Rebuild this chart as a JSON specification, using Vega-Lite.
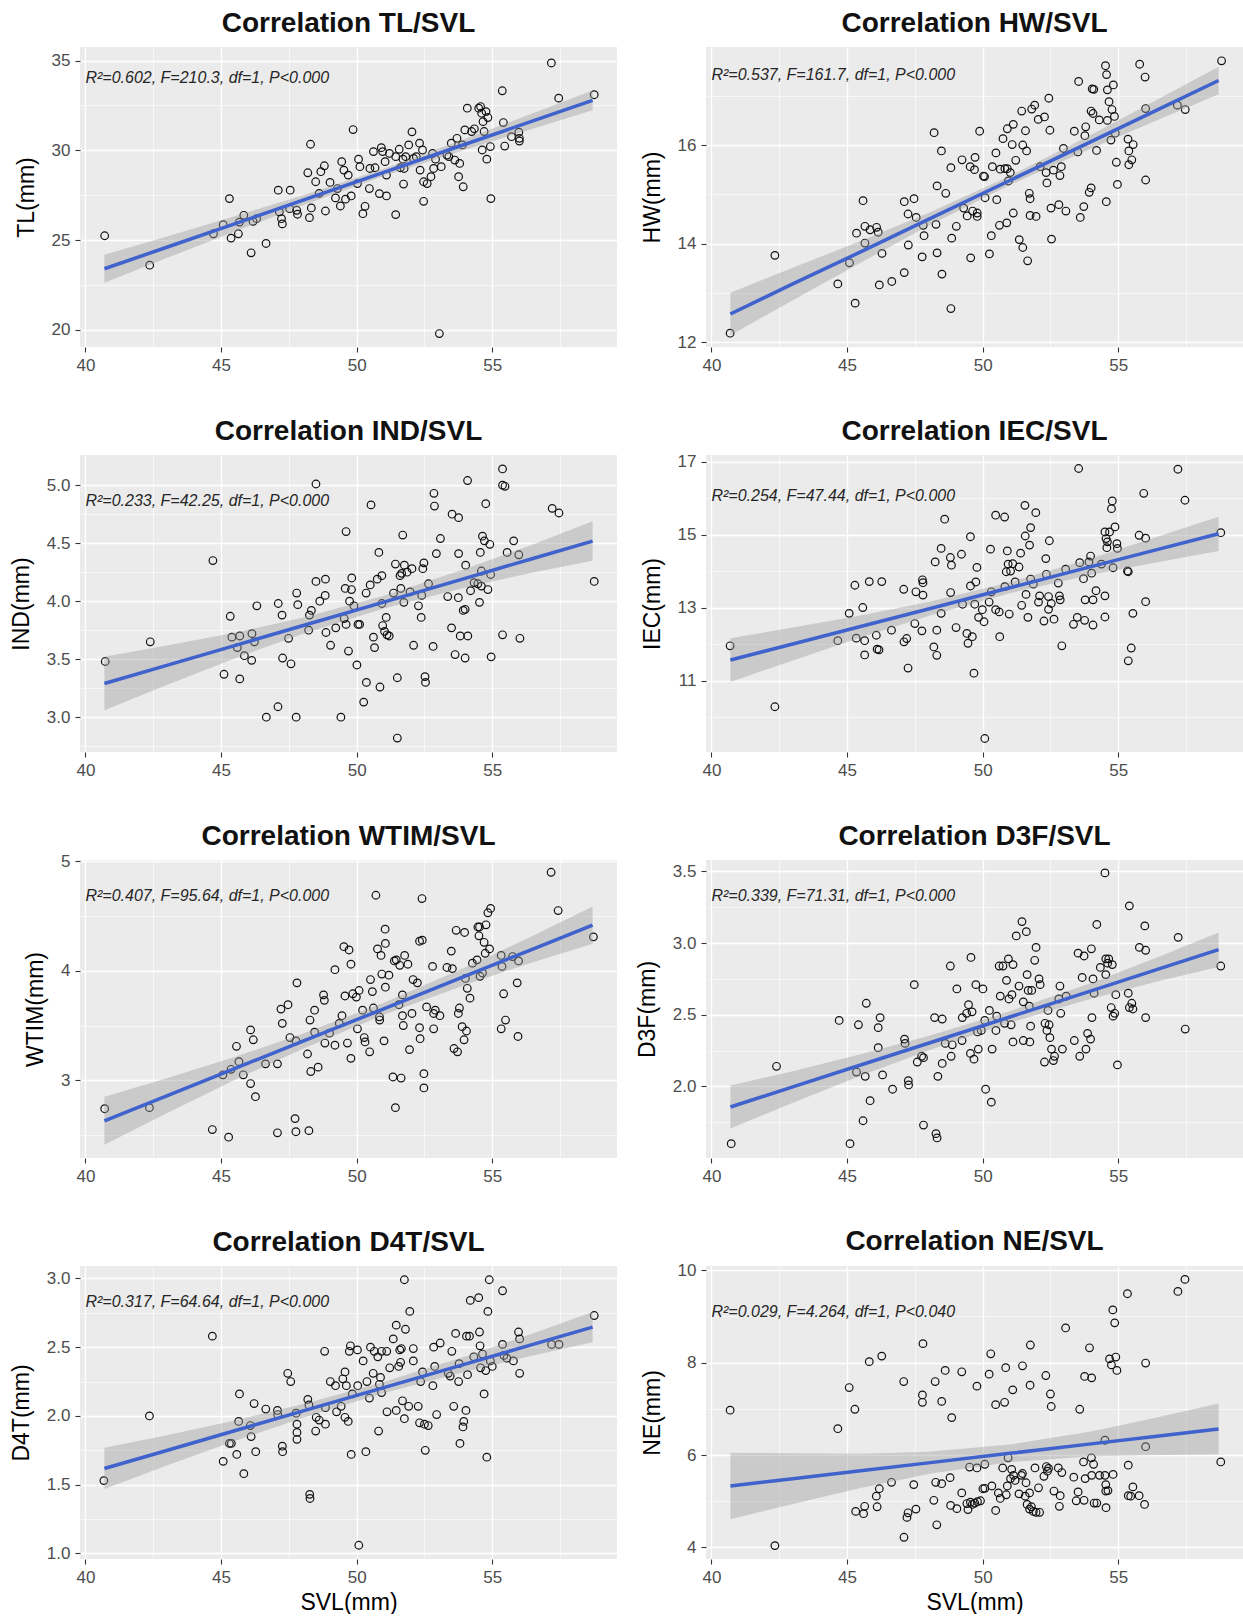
{
  "$schema": "https://vega.github.io/schema/vega-lite/v6.json",
  "padding": {"left": 10, "top": 10, "right": 0, "bottom": 0},
  "columns": 2,
  "spacing": {"row": 44, "column": 19},
  "datasets": {
    "tl": [
      {"s":40.71,"v":25.24},{"s":42.37,"v":23.6},{"s":44.72,"v":25.35},{"s":45.08,"v":25.86},{"s":45.31,"v":27.31},{"s":45.37,"v":25.11},{"s":45.64,"v":25.35},{"s":45.68,"v":26.0},{"s":45.84,"v":26.38},{"s":46.11,"v":24.29},{"s":46.18,"v":26.04},{"s":46.31,"v":26.19},{"s":46.66,"v":24.81},{"s":47.11,"v":27.78},{"s":47.15,"v":26.57},{"s":47.23,"v":26.19},{"s":47.26,"v":25.9},{"s":47.55,"v":27.78},{"s":47.53,"v":26.75},{"s":47.79,"v":26.66},{"s":47.82,"v":26.44},{"s":48.2,"v":28.75},{"s":48.3,"v":30.34},{"s":48.26,"v":26.25},{"s":48.33,"v":26.79},{"s":48.49,"v":28.25},{"s":48.62,"v":27.6},{"s":48.81,"v":29.14},{"s":48.85,"v":26.62},{"s":49.02,"v":28.21},{"s":49.22,"v":27.35},{"s":49.4,"v":26.9},{"s":49.45,"v":29.37},{"s":49.53,"v":28.9},{"s":49.59,"v":27.28},{"s":49.69,"v":28.62},{"s":49.8,"v":27.46},{"s":49.87,"v":31.16},{"s":50.03,"v":28.15},{"s":50.07,"v":29.51},{"s":50.12,"v":29.09},{"s":50.23,"v":26.47},{"s":50.31,"v":26.88},{"s":50.47,"v":27.87},{"s":50.49,"v":28.99},{"s":50.62,"v":29.93},{"s":50.68,"v":29.03},{"s":50.84,"v":27.59},{"s":50.91,"v":30.15},{"s":50.96,"v":29.93},{"s":51.05,"v":29.37},{"s":51.1,"v":28.62},{"s":51.1,"v":27.46},{"s":51.21,"v":29.83},{"s":51.44,"v":26.42},{"s":51.44,"v":29.65},{"s":51.57,"v":30.06},{"s":51.61,"v":29.03},{"s":51.71,"v":29.51},{"s":51.73,"v":28.12},{"s":51.81,"v":29.65},{"s":51.92,"v":30.3},{"s":52.04,"v":31.03},{"s":52.1,"v":29.55},{"s":52.32,"v":30.4},{"s":52.34,"v":28.9},{"s":52.43,"v":30.02},{"s":52.47,"v":27.16},{"s":52.47,"v":28.25},{"s":52.6,"v":28.15},{"s":52.74,"v":28.53},{"s":52.8,"v":29.83},{"s":52.84,"v":28.99},{"s":52.91,"v":29.51},{"s":53.05,"v":19.79},{"s":53.4,"v":29.65},{"s":53.49,"v":30.4},{"s":53.62,"v":29.46},{"s":53.7,"v":30.67},{"s":53.76,"v":28.53},{"s":53.8,"v":29.27},{"s":53.9,"v":30.3},{"s":53.93,"v":27.97},{"s":53.99,"v":31.14},{"s":54.08,"v":32.35},{"s":54.24,"v":31.05},{"s":54.34,"v":31.2},{"s":54.5,"v":32.35},{"s":54.57,"v":32.44},{"s":54.61,"v":32.07},{"s":54.63,"v":30.02},{"s":54.66,"v":31.6},{"s":54.7,"v":31.05},{"s":54.77,"v":32.16},{"s":54.8,"v":29.51},{"s":54.84,"v":31.83},{"s":54.93,"v":30.21},{"s":54.95,"v":27.31},{"s":55.37,"v":33.32},{"s":55.41,"v":31.55},{"s":55.46,"v":30.24},{"s":55.71,"v":30.76},{"s":55.98,"v":31.01},{"s":56.0,"v":30.67},{"s":56.0,"v":30.52},{"s":57.18,"v":34.87},{"s":57.45,"v":32.91},{"s":58.76,"v":33.1},{"s":49.29,"v":27.87},{"s":48.68,"v":28.81},{"s":51.75,"v":28.99},{"s":53.33,"v":29.74},{"s":53.12,"v":29.09},{"s":52.2,"v":29.65}
    ],
    "tl_fit": [
      {"s":40.7,"v":23.4,"lo":22.62,"hi":24.18},{"s":43,"v":24.6,"lo":24.0,"hi":25.2},{"s":45.5,"v":25.9,"lo":25.47,"hi":26.33},{"s":48,"v":27.21,"lo":26.93,"hi":27.49},{"s":51,"v":28.77,"lo":28.57,"hi":28.97},{"s":54,"v":30.34,"lo":30.04,"hi":30.64},{"s":56.5,"v":31.64,"lo":31.21,"hi":32.07},{"s":58.7,"v":32.79,"lo":32.24,"hi":33.34}
    ],
    "hw": [
      {"s":40.69,"v":12.18},{"s":42.34,"v":13.76},{"s":44.66,"v":13.18},{"s":45.09,"v":13.61},{"s":45.3,"v":12.79},{"s":45.59,"v":14.87},{"s":45.66,"v":14.01},{"s":45.35,"v":14.21},{"s":45.66,"v":14.35},{"s":45.85,"v":14.28},{"s":46.09,"v":14.33},{"s":46.15,"v":14.23},{"s":46.29,"v":13.8},{"s":46.19,"v":13.16},{"s":46.65,"v":13.23},{"s":47.11,"v":13.41},{"s":47.11,"v":14.85},{"s":47.25,"v":14.6},{"s":47.26,"v":13.97},{"s":47.47,"v":14.91},{"s":47.55,"v":14.53},{"s":47.77,"v":13.73},{"s":47.81,"v":14.37},{"s":47.84,"v":14.16},{"s":48.21,"v":16.25},{"s":48.28,"v":14.39},{"s":48.32,"v":13.81},{"s":48.32,"v":15.17},{"s":48.48,"v":15.88},{"s":48.5,"v":13.38},{"s":48.64,"v":15.02},{"s":48.83,"v":15.54},{"s":48.86,"v":14.11},{"s":48.83,"v":12.68},{"s":49.03,"v":14.35},{"s":49.24,"v":15.7},{"s":49.3,"v":14.72},{"s":49.43,"v":14.56},{"s":49.54,"v":15.56},{"s":49.56,"v":13.71},{"s":49.63,"v":14.66},{"s":49.72,"v":15.75},{"s":49.7,"v":15.5},{"s":49.8,"v":14.62},{"s":49.8,"v":14.55},{"s":49.89,"v":16.28},{"s":50.03,"v":15.37},{"s":50.07,"v":15.36},{"s":50.09,"v":14.93},{"s":50.25,"v":13.79},{"s":50.32,"v":14.16},{"s":50.36,"v":15.56},{"s":50.49,"v":15.84},{"s":50.52,"v":14.89},{"s":50.62,"v":14.37},{"s":50.65,"v":15.51},{"s":50.75,"v":16.13},{"s":50.82,"v":15.52},{"s":50.89,"v":14.42},{"s":50.91,"v":16.33},{"s":50.91,"v":15.52},{"s":50.95,"v":15.27},{"s":51.02,"v":15.44},{"s":51.09,"v":16.01},{"s":51.13,"v":16.42},{"s":51.13,"v":14.62},{"s":51.22,"v":15.69},{"s":51.35,"v":14.08},{"s":51.44,"v":16.69},{"s":51.48,"v":16.0},{"s":51.48,"v":13.92},{"s":51.58,"v":16.29},{"s":51.62,"v":15.88},{"s":51.66,"v":13.65},{"s":51.72,"v":15.02},{"s":51.75,"v":14.91},{"s":51.75,"v":14.57},{"s":51.81,"v":16.73},{"s":51.92,"v":16.81},{"s":51.97,"v":14.55},{"s":52.05,"v":16.52},{"s":52.12,"v":15.56},{"s":52.28,"v":16.57},{"s":52.34,"v":15.44},{"s":52.37,"v":15.23},{"s":52.44,"v":16.95},{"s":52.48,"v":16.3},{"s":52.52,"v":14.72},{"s":52.54,"v":14.09},{"s":52.61,"v":15.49},{"s":52.81,"v":14.79},{"s":52.85,"v":15.38},{"s":52.9,"v":15.56},{"s":52.98,"v":15.93},{"s":53.07,"v":14.66},{"s":53.38,"v":16.28},{"s":53.54,"v":17.29},{"s":53.51,"v":15.86},{"s":53.6,"v":14.53},{"s":53.73,"v":14.75},{"s":53.77,"v":16.19},{"s":53.8,"v":16.37},{"s":53.93,"v":15.04},{"s":54.0,"v":15.13},{"s":54.0,"v":16.69},{"s":54.04,"v":17.14},{"s":54.07,"v":16.64},{"s":54.1,"v":17.13},{"s":54.2,"v":15.89},{"s":54.3,"v":16.51},{"s":54.53,"v":17.61},{"s":54.56,"v":14.85},{"s":54.57,"v":17.43},{"s":54.6,"v":17.12},{"s":54.6,"v":16.5},{"s":54.66,"v":16.88},{"s":54.73,"v":16.1},{"s":54.77,"v":16.72},{"s":54.82,"v":17.22},{"s":54.86,"v":16.58},{"s":54.89,"v":16.24},{"s":54.93,"v":15.65},{"s":54.97,"v":15.2},{"s":55.36,"v":16.12},{"s":55.39,"v":15.88},{"s":55.39,"v":15.6},{"s":55.5,"v":15.7},{"s":55.55,"v":16.01},{"s":55.79,"v":17.64},{"s":55.99,"v":17.38},{"s":56.01,"v":15.29},{"s":56.01,"v":16.74},{"s":57.18,"v":16.81},{"s":57.47,"v":16.72},{"s":58.81,"v":17.71}
    ],
    "hw_fit": [
      {"s":40.7,"v":12.57,"lo":12.14,"hi":13.0},{"s":43,"v":13.18,"lo":12.85,"hi":13.51},{"s":45.5,"v":13.83,"lo":13.61,"hi":14.05},{"s":48,"v":14.49,"lo":14.36,"hi":14.62},{"s":51,"v":15.28,"lo":15.19,"hi":15.37},{"s":54,"v":16.07,"lo":15.93,"hi":16.21},{"s":56.5,"v":16.73,"lo":16.52,"hi":16.94},{"s":58.7,"v":17.31,"lo":17.03,"hi":17.59}
    ],
    "ind": [
      {"s":40.73,"v":3.48},{"s":42.39,"v":3.65},{"s":44.7,"v":4.35},{"s":45.11,"v":3.37},{"s":45.34,"v":3.87},{"s":45.4,"v":3.69},{"s":45.69,"v":3.7},{"s":45.6,"v":3.6},{"s":45.69,"v":3.33},{"s":45.86,"v":3.53},{"s":46.14,"v":3.72},{"s":46.13,"v":3.49},{"s":46.23,"v":3.65},{"s":46.32,"v":3.96},{"s":46.67,"v":3.0},{"s":47.1,"v":3.09},{"s":47.11,"v":3.98},{"s":47.25,"v":3.88},{"s":47.27,"v":3.51},{"s":47.49,"v":3.68},{"s":47.58,"v":3.46},{"s":47.77,"v":3.0},{"s":47.79,"v":4.07},{"s":47.83,"v":3.97},{"s":48.23,"v":3.75},{"s":48.26,"v":3.88},{"s":48.33,"v":3.92},{"s":48.5,"v":5.01},{"s":48.5,"v":4.17},{"s":48.64,"v":4.0},{"s":48.84,"v":4.05},{"s":48.85,"v":4.19},{"s":48.87,"v":3.73},{"s":49.04,"v":3.62},{"s":49.23,"v":3.77},{"s":49.42,"v":3.0},{"s":49.54,"v":3.85},{"s":49.58,"v":4.11},{"s":49.61,"v":4.6},{"s":49.61,"v":3.8},{"s":49.7,"v":3.57},{"s":49.74,"v":4.0},{"s":49.81,"v":4.1},{"s":49.82,"v":4.2},{"s":49.9,"v":3.96},{"s":50.01,"v":3.45},{"s":50.05,"v":3.8},{"s":50.11,"v":3.8},{"s":50.26,"v":3.13},{"s":50.35,"v":4.07},{"s":50.36,"v":3.3},{"s":50.5,"v":4.14},{"s":50.53,"v":4.83},{"s":50.62,"v":3.69},{"s":50.66,"v":3.6},{"s":50.76,"v":4.19},{"s":50.82,"v":4.42},{"s":50.86,"v":3.26},{"s":50.93,"v":3.98},{"s":50.93,"v":4.22},{"s":50.96,"v":3.79},{"s":51.03,"v":3.74},{"s":51.09,"v":3.86},{"s":51.12,"v":3.71},{"s":51.2,"v":3.7},{"s":51.36,"v":4.07},{"s":51.43,"v":4.32},{"s":51.5,"v":3.34},{"s":51.5,"v":2.82},{"s":51.6,"v":4.22},{"s":51.63,"v":4.11},{"s":51.66,"v":4.24},{"s":51.7,"v":4.57},{"s":51.74,"v":3.99},{"s":51.76,"v":4.31},{"s":51.86,"v":4.25},{"s":51.97,"v":4.08},{"s":52.04,"v":4.28},{"s":52.1,"v":3.62},{"s":52.28,"v":3.96},{"s":52.38,"v":3.86},{"s":52.4,"v":4.05},{"s":52.44,"v":4.28},{"s":52.48,"v":4.33},{"s":52.52,"v":3.35},{"s":52.54,"v":3.3},{"s":52.65,"v":4.15},{"s":52.82,"v":3.61},{"s":52.85,"v":4.93},{"s":52.87,"v":4.82},{"s":52.94,"v":4.41},{"s":53.09,"v":4.54},{"s":53.36,"v":4.04},{"s":53.5,"v":3.77},{"s":53.52,"v":4.75},{"s":53.63,"v":3.54},{"s":53.75,"v":4.03},{"s":53.76,"v":4.72},{"s":53.76,"v":4.41},{"s":53.82,"v":3.7},{"s":53.93,"v":3.92},{"s":54.0,"v":3.93},{"s":54.0,"v":3.51},{"s":54.02,"v":4.31},{"s":54.09,"v":5.04},{"s":54.1,"v":3.7},{"s":54.2,"v":4.09},{"s":54.33,"v":4.16},{"s":54.47,"v":4.15},{"s":54.53,"v":3.99},{"s":54.56,"v":4.42},{"s":54.6,"v":4.26},{"s":54.6,"v":4.13},{"s":54.64,"v":4.56},{"s":54.71,"v":4.52},{"s":54.76,"v":4.84},{"s":54.84,"v":4.1},{"s":54.91,"v":4.49},{"s":54.94,"v":4.23},{"s":54.96,"v":3.52},{"s":55.38,"v":5.14},{"s":55.38,"v":5.0},{"s":55.47,"v":4.99},{"s":55.38,"v":3.71},{"s":55.55,"v":4.42},{"s":55.79,"v":4.52},{"s":55.98,"v":4.4},{"s":56.02,"v":3.68},{"s":57.21,"v":4.8},{"s":57.46,"v":4.76},{"s":58.76,"v":4.17}
    ],
    "ind_fit": [
      {"s":40.7,"v":3.29,"lo":3.06,"hi":3.52},{"s":43,"v":3.447,"lo":3.277,"hi":3.617},{"s":45.5,"v":3.617,"lo":3.507,"hi":3.727},{"s":48,"v":3.788,"lo":3.718,"hi":3.858},{"s":51,"v":3.992,"lo":3.937,"hi":4.047},{"s":54,"v":4.197,"lo":4.117,"hi":4.277},{"s":56.5,"v":4.368,"lo":4.248,"hi":4.488},{"s":58.7,"v":4.518,"lo":4.348,"hi":4.688}
    ],
    "iec": [
      {"s":40.69,"v":11.96},{"s":42.34,"v":10.29},{"s":44.66,"v":12.1},{"s":45.08,"v":12.85},{"s":45.29,"v":13.62},{"s":45.34,"v":12.17},{"s":45.58,"v":13.01},{"s":45.65,"v":12.1},{"s":45.65,"v":11.71},{"s":45.82,"v":13.72},{"s":46.08,"v":12.25},{"s":46.11,"v":11.87},{"s":46.18,"v":11.85},{"s":46.28,"v":13.72},{"s":46.64,"v":12.39},{"s":47.09,"v":13.51},{"s":47.1,"v":12.07},{"s":47.2,"v":12.16},{"s":47.25,"v":11.35},{"s":47.5,"v":12.57},{"s":47.54,"v":13.44},{"s":47.76,"v":12.37},{"s":47.78,"v":13.77},{"s":47.8,"v":13.69},{"s":47.8,"v":13.35},{"s":48.2,"v":11.93},{"s":48.25,"v":14.26},{"s":48.31,"v":12.39},{"s":48.31,"v":11.7},{"s":48.47,"v":14.63},{"s":48.47,"v":12.85},{"s":48.6,"v":15.43},{"s":48.81,"v":14.38},{"s":48.85,"v":14.17},{"s":48.82,"v":13.42},{"s":49.02,"v":12.46},{"s":49.22,"v":14.47},{"s":49.26,"v":13.1},{"s":49.42,"v":12.3},{"s":49.46,"v":12.03},{"s":49.55,"v":14.95},{"s":49.55,"v":13.6},{"s":49.62,"v":12.21},{"s":49.68,"v":11.21},{"s":49.75,"v":13.71},{"s":49.79,"v":14.11},{"s":49.71,"v":13.1},{"s":49.85,"v":12.74},{"s":49.99,"v":12.95},{"s":50.05,"v":12.62},{"s":50.08,"v":9.42},{"s":50.24,"v":13.16},{"s":50.29,"v":14.61},{"s":50.32,"v":13.44},{"s":50.48,"v":15.54},{"s":50.48,"v":12.95},{"s":50.61,"v":12.89},{"s":50.63,"v":12.21},{"s":50.81,"v":15.49},{"s":50.82,"v":13.58},{"s":50.91,"v":14.56},{"s":50.87,"v":13.99},{"s":50.94,"v":14.2},{"s":50.98,"v":12.83},{"s":51.03,"v":14.01},{"s":51.11,"v":14.21},{"s":51.2,"v":13.71},{"s":51.34,"v":14.12},{"s":51.4,"v":14.5},{"s":51.44,"v":13.07},{"s":51.56,"v":15.81},{"s":51.57,"v":14.97},{"s":51.6,"v":13.37},{"s":51.67,"v":12.74},{"s":51.73,"v":14.72},{"s":51.77,"v":15.2},{"s":51.77,"v":13.79},{"s":51.87,"v":13.65},{"s":51.96,"v":15.61},{"s":52.06,"v":13.16},{"s":52.1,"v":13.33},{"s":52.26,"v":12.64},{"s":52.33,"v":14.35},{"s":52.35,"v":13.92},{"s":52.43,"v":13.31},{"s":52.43,"v":12.96},{"s":52.46,"v":14.84},{"s":52.53,"v":13.12},{"s":52.63,"v":12.69},{"s":52.79,"v":13.68},{"s":52.83,"v":13.33},{"s":52.86,"v":13.22},{"s":52.92,"v":11.96},{"s":53.06,"v":14.06},{"s":53.35,"v":12.55},{"s":53.49,"v":12.74},{"s":53.54,"v":16.82},{"s":53.58,"v":14.24},{"s":53.72,"v":13.8},{"s":53.76,"v":12.66},{"s":53.78,"v":13.22},{"s":53.92,"v":14.26},{"s":53.98,"v":14.42},{"s":54.02,"v":13.95},{"s":54.07,"v":13.22},{"s":54.07,"v":12.53},{"s":54.18,"v":13.47},{"s":54.38,"v":14.2},{"s":54.51,"v":13.33},{"s":54.51,"v":12.75},{"s":54.51,"v":15.08},{"s":54.55,"v":14.9},{"s":54.58,"v":14.65},{"s":54.6,"v":14.81},{"s":54.68,"v":15.08},{"s":54.75,"v":15.72},{"s":54.78,"v":15.93},{"s":54.81,"v":14.1},{"s":54.88,"v":15.22},{"s":54.95,"v":14.76},{"s":54.97,"v":14.63},{"s":55.34,"v":14.01},{"s":55.37,"v":13.99},{"s":55.37,"v":11.55},{"s":55.48,"v":11.9},{"s":55.54,"v":12.85},{"s":55.77,"v":14.99},{"s":55.94,"v":16.14},{"s":56.01,"v":14.91},{"s":56.01,"v":13.17},{"s":57.2,"v":16.8},{"s":57.46,"v":15.95},{"s":58.78,"v":15.06}
    ],
    "iec_fit": [
      {"s":40.7,"v":11.57,"lo":10.97,"hi":12.17},{"s":43,"v":12.01,"lo":11.56,"hi":12.46},{"s":45.5,"v":12.49,"lo":12.19,"hi":12.79},{"s":48,"v":12.97,"lo":12.78,"hi":13.16},{"s":51,"v":13.55,"lo":13.4,"hi":13.7},{"s":54,"v":14.13,"lo":13.91,"hi":14.35},{"s":56.5,"v":14.61,"lo":14.26,"hi":14.96},{"s":58.7,"v":15.03,"lo":14.56,"hi":15.5}
    ],
    "wtim": [
      {"s":40.71,"v":2.74},{"s":42.36,"v":2.75},{"s":44.68,"v":2.55},{"s":45.07,"v":3.05},{"s":45.28,"v":2.48},{"s":45.37,"v":3.1},{"s":45.57,"v":3.31},{"s":45.66,"v":3.17},{"s":45.82,"v":3.05},{"s":46.09,"v":2.97},{"s":46.09,"v":3.46},{"s":46.19,"v":3.37},{"s":46.27,"v":2.85},{"s":46.64,"v":3.15},{"s":47.08,"v":3.15},{"s":47.08,"v":2.52},{"s":47.21,"v":3.65},{"s":47.26,"v":3.52},{"s":47.47,"v":3.69},{"s":47.54,"v":3.39},{"s":47.73,"v":2.65},{"s":47.76,"v":2.53},{"s":47.8,"v":3.89},{"s":47.76,"v":3.36},{"s":48.19,"v":3.24},{"s":48.24,"v":2.54},{"s":48.28,"v":3.55},{"s":48.31,"v":3.08},{"s":48.45,"v":3.64},{"s":48.45,"v":3.44},{"s":48.58,"v":3.12},{"s":48.78,"v":3.78},{"s":48.81,"v":3.73},{"s":48.83,"v":3.34},{"s":49.0,"v":3.43},{"s":49.2,"v":3.32},{"s":49.2,"v":4.01},{"s":49.36,"v":3.52},{"s":49.46,"v":3.59},{"s":49.53,"v":4.22},{"s":49.57,"v":3.77},{"s":49.66,"v":3.34},{"s":49.72,"v":4.19},{"s":49.79,"v":4.06},{"s":49.79,"v":3.2},{"s":49.86,"v":3.79},{"s":49.99,"v":3.76},{"s":50.03,"v":3.47},{"s":50.09,"v":3.82},{"s":50.22,"v":3.64},{"s":50.28,"v":3.39},{"s":50.31,"v":3.35},{"s":50.48,"v":3.26},{"s":50.51,"v":3.92},{"s":50.58,"v":3.81},{"s":50.62,"v":3.66},{"s":50.71,"v":4.69},{"s":50.77,"v":4.2},{"s":50.84,"v":3.58},{"s":50.85,"v":3.55},{"s":50.9,"v":4.14},{"s":50.93,"v":3.97},{"s":51.01,"v":3.36},{"s":51.05,"v":4.38},{"s":51.06,"v":4.25},{"s":51.06,"v":3.85},{"s":51.19,"v":3.96},{"s":51.34,"v":3.03},{"s":51.39,"v":4.09},{"s":51.43,"v":2.75},{"s":51.46,"v":4.1},{"s":51.56,"v":3.69},{"s":51.59,"v":4.05},{"s":51.64,"v":3.02},{"s":51.69,"v":3.78},{"s":51.69,"v":3.59},{"s":51.72,"v":3.5},{"s":51.77,"v":4.14},{"s":51.89,"v":4.06},{"s":51.95,"v":3.28},{"s":52.04,"v":3.61},{"s":52.08,"v":3.92},{"s":52.24,"v":3.89},{"s":52.32,"v":3.48},{"s":52.34,"v":3.38},{"s":52.32,"v":4.27},{"s":52.42,"v":4.28},{"s":52.41,"v":4.66},{"s":52.48,"v":3.06},{"s":52.48,"v":2.93},{"s":52.58,"v":3.67},{"s":52.8,"v":4.04},{"s":52.84,"v":3.47},{"s":52.84,"v":3.61},{"s":52.9,"v":3.64},{"s":53.07,"v":3.59},{"s":53.33,"v":4.03},{"s":53.49,"v":4.18},{"s":53.53,"v":4.02},{"s":53.59,"v":3.29},{"s":53.67,"v":4.37},{"s":53.72,"v":3.26},{"s":53.75,"v":3.61},{"s":53.79,"v":3.66},{"s":53.89,"v":3.49},{"s":53.96,"v":3.37},{"s":53.98,"v":4.35},{"s":54.01,"v":3.93},{"s":54.05,"v":3.45},{"s":54.08,"v":3.84},{"s":54.18,"v":3.75},{"s":54.27,"v":4.07},{"s":54.44,"v":4.1},{"s":54.47,"v":4.4},{"s":54.51,"v":4.32},{"s":54.53,"v":4.4},{"s":54.55,"v":3.95},{"s":54.64,"v":3.98},{"s":54.7,"v":4.26},{"s":54.74,"v":4.16},{"s":54.77,"v":4.42},{"s":54.84,"v":4.53},{"s":54.9,"v":4.2},{"s":54.94,"v":4.57},{"s":55.33,"v":4.14},{"s":55.33,"v":3.47},{"s":55.36,"v":4.04},{"s":55.42,"v":3.79},{"s":55.49,"v":3.55},{"s":55.75,"v":4.13},{"s":55.92,"v":3.89},{"s":55.95,"v":3.4},{"s":55.97,"v":4.09},{"s":57.17,"v":4.9},{"s":57.43,"v":4.55},{"s":58.73,"v":4.31}
    ],
    "wtim_fit": [
      {"s":40.7,"v":2.63,"lo":2.41,"hi":2.85},{"s":43,"v":2.858,"lo":2.698,"hi":3.018},{"s":45.5,"v":3.107,"lo":3.002,"hi":3.212},{"s":48,"v":3.355,"lo":3.285,"hi":3.425},{"s":51,"v":3.653,"lo":3.598,"hi":3.708},{"s":54,"v":3.951,"lo":3.871,"hi":4.031},{"s":56.5,"v":4.199,"lo":4.079,"hi":4.319},{"s":58.7,"v":4.417,"lo":4.247,"hi":4.587}
    ],
    "d3f": [
      {"s":40.73,"v":1.6},{"s":42.4,"v":2.14},{"s":44.71,"v":2.46},{"s":45.11,"v":1.6},{"s":45.35,"v":2.1},{"s":45.42,"v":2.43},{"s":45.59,"v":1.76},{"s":45.67,"v":2.07},{"s":45.71,"v":2.58},{"s":45.85,"v":1.9},{"s":46.15,"v":2.27},{"s":46.15,"v":2.41},{"s":46.22,"v":2.48},{"s":46.31,"v":2.08},{"s":46.68,"v":1.98},{"s":47.12,"v":2.33},{"s":47.14,"v":2.3},{"s":47.26,"v":2.04},{"s":47.27,"v":2.01},{"s":47.48,"v":2.71},{"s":47.59,"v":2.17},{"s":47.75,"v":2.21},{"s":47.82,"v":2.2},{"s":47.82,"v":1.73},{"s":48.23,"v":2.48},{"s":48.28,"v":1.67},{"s":48.32,"v":1.64},{"s":48.35,"v":2.07},{"s":48.51,"v":2.47},{"s":48.51,"v":2.16},{"s":48.62,"v":2.3},{"s":48.81,"v":2.84},{"s":48.84,"v":2.21},{"s":48.88,"v":2.29},{"s":49.05,"v":2.68},{"s":49.24,"v":2.32},{"s":49.25,"v":2.48},{"s":49.41,"v":2.51},{"s":49.48,"v":2.57},{"s":49.55,"v":2.23},{"s":49.57,"v":2.9},{"s":49.61,"v":2.52},{"s":49.68,"v":2.19},{"s":49.75,"v":2.71},{"s":49.81,"v":2.38},{"s":49.84,"v":2.26},{"s":49.95,"v":2.39},{"s":50.01,"v":2.68},{"s":50.08,"v":2.46},{"s":50.11,"v":1.98},{"s":50.25,"v":2.53},{"s":50.32,"v":1.89},{"s":50.35,"v":2.26},{"s":50.49,"v":2.39},{"s":50.52,"v":2.49},{"s":50.61,"v":2.84},{"s":50.65,"v":2.63},{"s":50.75,"v":2.84},{"s":50.81,"v":2.44},{"s":50.88,"v":2.74},{"s":50.95,"v":2.89},{"s":50.97,"v":2.61},{"s":51.05,"v":2.43},{"s":51.08,"v":2.64},{"s":51.12,"v":2.85},{"s":51.12,"v":2.31},{"s":51.24,"v":3.05},{"s":51.34,"v":2.7},{"s":51.45,"v":3.15},{"s":51.5,"v":2.59},{"s":51.5,"v":2.32},{"s":51.61,"v":3.08},{"s":51.64,"v":2.78},{"s":51.68,"v":2.67},{"s":51.72,"v":2.56},{"s":51.74,"v":2.31},{"s":51.77,"v":2.42},{"s":51.81,"v":2.67},{"s":51.92,"v":2.88},{"s":51.97,"v":2.97},{"s":52.08,"v":2.75},{"s":52.12,"v":2.71},{"s":52.28,"v":2.17},{"s":52.3,"v":2.44},{"s":52.37,"v":2.39},{"s":52.41,"v":2.53},{"s":52.45,"v":2.43},{"s":52.48,"v":2.34},{"s":52.54,"v":2.26},{"s":52.61,"v":2.18},{"s":52.65,"v":2.21},{"s":52.85,"v":2.7},{"s":52.88,"v":2.51},{"s":52.94,"v":2.26},{"s":52.81,"v":2.61},{"s":53.08,"v":2.63},{"s":53.38,"v":2.32},{"s":53.52,"v":2.93},{"s":53.58,"v":2.21},{"s":53.67,"v":2.76},{"s":53.74,"v":2.91},{"s":53.81,"v":2.26},{"s":53.87,"v":2.37},{"s":53.98,"v":2.33},{"s":54.01,"v":2.96},{"s":54.03,"v":2.48},{"s":54.07,"v":2.75},{"s":54.11,"v":2.65},{"s":54.21,"v":3.13},{"s":54.34,"v":2.83},{"s":54.51,"v":3.49},{"s":54.54,"v":2.78},{"s":54.54,"v":2.89},{"s":54.61,"v":2.86},{"s":54.65,"v":2.89},{"s":54.74,"v":2.55},{"s":54.78,"v":2.85},{"s":54.81,"v":2.49},{"s":54.87,"v":2.51},{"s":54.91,"v":2.64},{"s":54.97,"v":2.15},{"s":55.37,"v":2.65},{"s":55.41,"v":3.26},{"s":55.41,"v":2.55},{"s":55.5,"v":2.58},{"s":55.54,"v":2.54},{"s":55.78,"v":2.97},{"s":55.98,"v":3.12},{"s":56.01,"v":2.95},{"s":56.01,"v":2.48},{"s":57.21,"v":3.04},{"s":57.47,"v":2.4},{"s":58.78,"v":2.84}
    ],
    "d3f_fit": [
      {"s":40.7,"v":1.856,"lo":1.706,"hi":2.006},{"s":43,"v":1.996,"lo":1.886,"hi":2.106},{"s":45.5,"v":2.149,"lo":2.074,"hi":2.224},{"s":48,"v":2.301,"lo":2.251,"hi":2.351},{"s":51,"v":2.484,"lo":2.444,"hi":2.524},{"s":54,"v":2.667,"lo":2.612,"hi":2.722},{"s":56.5,"v":2.82,"lo":2.735,"hi":2.905},{"s":58.7,"v":2.954,"lo":2.834,"hi":3.074}
    ],
    "d4t": [
      {"s":40.68,"v":1.53},{"s":42.36,"v":2.0},{"s":44.68,"v":2.58},{"s":45.08,"v":1.67},{"s":45.31,"v":1.8},{"s":45.38,"v":1.8},{"s":45.58,"v":1.72},{"s":45.65,"v":1.96},{"s":45.68,"v":2.16},{"s":45.84,"v":1.58},{"s":46.08,"v":1.93},{"s":46.11,"v":1.85},{"s":46.22,"v":2.09},{"s":46.28,"v":1.74},{"s":46.65,"v":2.05},{"s":47.08,"v":2.04},{"s":47.09,"v":2.01},{"s":47.26,"v":1.78},{"s":47.27,"v":1.74},{"s":47.46,"v":2.31},{"s":47.57,"v":2.25},{"s":47.77,"v":2.02},{"s":47.8,"v":1.94},{"s":47.8,"v":1.88},{"s":47.8,"v":1.83},{"s":48.2,"v":2.12},{"s":48.24,"v":2.08},{"s":48.27,"v":1.43},{"s":48.28,"v":1.4},{"s":48.49,"v":1.89},{"s":48.51,"v":1.99},{"s":48.62,"v":1.97},{"s":48.82,"v":2.47},{"s":48.85,"v":2.06},{"s":48.85,"v":1.94},{"s":49.03,"v":2.25},{"s":49.22,"v":2.22},{"s":49.26,"v":2.03},{"s":49.43,"v":2.07},{"s":49.49,"v":2.27},{"s":49.57,"v":2.32},{"s":49.57,"v":1.99},{"s":49.62,"v":2.22},{"s":49.69,"v":1.96},{"s":49.73,"v":2.47},{"s":49.77,"v":2.51},{"s":49.8,"v":1.72},{"s":49.84,"v":2.16},{"s":50.04,"v":2.22},{"s":50.03,"v":2.48},{"s":50.08,"v":1.06},{"s":50.24,"v":2.4},{"s":50.34,"v":1.74},{"s":50.38,"v":2.25},{"s":50.47,"v":2.13},{"s":50.51,"v":2.5},{"s":50.61,"v":2.31},{"s":50.65,"v":2.47},{"s":50.78,"v":2.43},{"s":50.81,"v":1.89},{"s":50.84,"v":2.23},{"s":50.88,"v":2.28},{"s":50.92,"v":2.47},{"s":50.92,"v":2.17},{"s":51.11,"v":2.47},{"s":51.12,"v":2.03},{"s":51.22,"v":2.35},{"s":51.35,"v":2.56},{"s":51.46,"v":2.66},{"s":51.46,"v":2.04},{"s":51.55,"v":2.36},{"s":51.59,"v":2.48},{"s":51.62,"v":2.39},{"s":51.65,"v":2.49},{"s":51.69,"v":2.11},{"s":51.76,"v":2.99},{"s":51.76,"v":1.98},{"s":51.8,"v":2.63},{"s":51.92,"v":2.07},{"s":51.96,"v":2.76},{"s":52.09,"v":2.49},{"s":52.09,"v":2.4},{"s":52.27,"v":2.07},{"s":52.32,"v":1.95},{"s":52.36,"v":2.25},{"s":52.43,"v":2.32},{"s":52.5,"v":1.94},{"s":52.53,"v":1.75},{"s":52.64,"v":1.93},{"s":52.81,"v":2.22},{"s":52.84,"v":2.5},{"s":52.88,"v":2.36},{"s":52.95,"v":2.01},{"s":53.08,"v":2.53},{"s":53.38,"v":2.31},{"s":53.45,"v":2.29},{"s":53.51,"v":2.47},{"s":53.58,"v":2.07},{"s":53.65,"v":2.6},{"s":53.76,"v":2.25},{"s":53.78,"v":2.38},{"s":53.81,"v":1.8},{"s":53.92,"v":1.92},{"s":53.95,"v":1.96},{"s":54.03,"v":2.04},{"s":54.05,"v":2.58},{"s":54.09,"v":2.3},{"s":54.16,"v":2.58},{"s":54.19,"v":2.84},{"s":54.32,"v":2.43},{"s":54.5,"v":2.86},{"s":54.53,"v":2.61},{"s":54.55,"v":2.51},{"s":54.57,"v":2.35},{"s":54.64,"v":2.45},{"s":54.7,"v":2.16},{"s":54.76,"v":2.33},{"s":54.8,"v":1.7},{"s":54.84,"v":2.76},{"s":54.89,"v":2.99},{"s":54.93,"v":2.4},{"s":55.0,"v":2.36},{"s":55.38,"v":2.91},{"s":55.38,"v":2.52},{"s":55.43,"v":2.44},{"s":55.54,"v":2.42},{"s":55.78,"v":2.4},{"s":55.97,"v":2.61},{"s":56.01,"v":2.56},{"s":56.01,"v":2.31},{"s":57.19,"v":2.52},{"s":57.46,"v":2.52},{"s":58.76,"v":2.73}
    ],
    "d4t_fit": [
      {"s":40.7,"v":1.618,"lo":1.468,"hi":1.768},{"s":43,"v":1.749,"lo":1.639,"hi":1.859},{"s":45.5,"v":1.892,"lo":1.817,"hi":1.967},{"s":48,"v":2.035,"lo":1.985,"hi":2.085},{"s":51,"v":2.206,"lo":2.166,"hi":2.246},{"s":54,"v":2.377,"lo":2.322,"hi":2.432},{"s":56.5,"v":2.52,"lo":2.44,"hi":2.6},{"s":58.7,"v":2.646,"lo":2.536,"hi":2.756}
    ],
    "ne": [
      {"s":40.69,"v":6.97},{"s":42.34,"v":4.04},{"s":44.66,"v":6.57},{"s":45.08,"v":7.46},{"s":45.29,"v":6.99},{"s":45.32,"v":4.78},{"s":45.61,"v":4.73},{"s":45.65,"v":4.89},{"s":45.82,"v":8.02},{"s":46.08,"v":5.11},{"s":46.11,"v":4.88},{"s":46.19,"v":5.27},{"s":46.28,"v":8.14},{"s":46.64,"v":5.41},{"s":47.09,"v":7.59},{"s":47.1,"v":4.22},{"s":47.21,"v":4.65},{"s":47.25,"v":4.75},{"s":47.46,"v":5.36},{"s":47.54,"v":4.83},{"s":47.78,"v":7.3},{"s":47.78,"v":7.14},{"s":47.8,"v":8.41},{"s":48.2,"v":5.02},{"s":48.25,"v":7.59},{"s":48.27,"v":5.41},{"s":48.31,"v":4.49},{"s":48.49,"v":5.38},{"s":48.49,"v":7.16},{"s":48.62,"v":7.83},{"s":48.8,"v":5.51},{"s":48.82,"v":4.91},{"s":48.86,"v":6.81},{"s":49.05,"v":4.84},{"s":49.23,"v":7.8},{"s":49.23,"v":5.18},{"s":49.42,"v":4.95},{"s":49.46,"v":4.82},{"s":49.52,"v":5.74},{"s":49.55,"v":4.98},{"s":49.62,"v":4.93},{"s":49.71,"v":4.96},{"s":49.79,"v":7.49},{"s":49.79,"v":5.72},{"s":49.81,"v":4.99},{"s":49.92,"v":5.01},{"s":50.01,"v":5.27},{"s":50.08,"v":5.8},{"s":50.08,"v":5.28},{"s":50.24,"v":7.75},{"s":50.3,"v":8.19},{"s":50.34,"v":5.33},{"s":50.48,"v":7.09},{"s":50.48,"v":4.8},{"s":50.58,"v":5.18},{"s":50.65,"v":5.06},{"s":50.74,"v":5.72},{"s":50.81,"v":7.14},{"s":50.85,"v":7.89},{"s":50.87,"v":5.14},{"s":50.91,"v":5.33},{"s":50.94,"v":5.94},{"s":51.03,"v":5.49},{"s":51.07,"v":5.69},{"s":51.11,"v":7.41},{"s":51.14,"v":5.56},{"s":51.2,"v":5.45},{"s":51.34,"v":5.16},{"s":51.43,"v":5.56},{"s":51.47,"v":5.6},{"s":51.47,"v":7.93},{"s":51.57,"v":5.11},{"s":51.6,"v":5.4},{"s":51.64,"v":4.93},{"s":51.73,"v":5.18},{"s":51.73,"v":4.83},{"s":51.75,"v":7.51},{"s":51.76,"v":8.38},{"s":51.8,"v":4.88},{"s":51.87,"v":4.78},{"s":51.93,"v":5.72},{"s":51.97,"v":4.76},{"s":52.06,"v":5.29},{"s":52.1,"v":4.76},{"s":52.26,"v":5.54},{"s":52.33,"v":7.72},{"s":52.35,"v":5.75},{"s":52.39,"v":5.65},{"s":52.43,"v":5.71},{"s":52.5,"v":7.32},{"s":52.53,"v":7.05},{"s":52.63,"v":5.22},{"s":52.79,"v":5.72},{"s":52.83,"v":4.89},{"s":52.86,"v":5.12},{"s":52.92,"v":5.62},{"s":53.06,"v":8.75},{"s":53.36,"v":5.52},{"s":53.45,"v":5.01},{"s":53.52,"v":5.2},{"s":53.58,"v":6.99},{"s":53.72,"v":5.85},{"s":53.74,"v":5.02},{"s":53.76,"v":7.7},{"s":53.78,"v":5.49},{"s":53.94,"v":8.32},{"s":54.01,"v":5.94},{"s":54.02,"v":7.67},{"s":54.02,"v":5.56},{"s":54.09,"v":5.8},{"s":54.11,"v":4.96},{"s":54.21,"v":4.96},{"s":54.31,"v":5.56},{"s":54.51,"v":6.32},{"s":54.51,"v":5.56},{"s":54.54,"v":5.36},{"s":54.54,"v":5.22},{"s":54.55,"v":4.86},{"s":54.62,"v":5.23},{"s":54.68,"v":8.08},{"s":54.75,"v":7.95},{"s":54.8,"v":9.14},{"s":54.81,"v":5.58},{"s":54.87,"v":8.86},{"s":54.91,"v":8.12},{"s":54.95,"v":7.83},{"s":55.34,"v":9.49},{"s":55.37,"v":5.78},{"s":55.37,"v":5.12},{"s":55.46,"v":5.11},{"s":55.54,"v":5.31},{"s":55.77,"v":5.12},{"s":55.97,"v":4.93},{"s":56.01,"v":7.99},{"s":56.01,"v":6.18},{"s":57.2,"v":9.54},{"s":57.46,"v":9.8},{"s":58.78,"v":5.85}
    ],
    "ne_fit": [
      {"s":40.7,"v":5.33,"lo":4.61,"hi":6.05},{"s":43,"v":5.488,"lo":4.938,"hi":6.038},{"s":45.5,"v":5.659,"lo":5.289,"hi":6.029},{"s":48,"v":5.83,"lo":5.59,"hi":6.07},{"s":51,"v":6.036,"lo":5.846,"hi":6.226},{"s":54,"v":6.241,"lo":5.971,"hi":6.511},{"s":56.5,"v":6.412,"lo":6.002,"hi":6.822},{"s":58.7,"v":6.563,"lo":6.013,"hi":7.113}
    ]
  },
  "concat": [
    {
      "width": 537, "height": 300,
      "title": "Correlation TL/SVL",
      "layer": [
        {"data": {"name": "tl"}, "mark": {"type": "point", "filled": false, "stroke": "#111111", "strokeWidth": 1.2, "size": 58, "opacity": 1},
         "encoding": {
           "x": {"field": "s", "type": "quantitative", "scale": {"domain": [39.8, 59.6], "nice": false, "zero": false},
                 "axis": {"title": null, "values": [40, 42.5, 45, 47.5, 50, 52.5, 55, 57.5], "labelExpr": "datum.value % 5 === 0 ? format(datum.value, 'd') : ''",
                          "tickSize": {"condition": {"test": "datum.value % 5 === 0", "value": 5}, "value": 0},
                          "gridWidth": {"condition": {"test": "datum.value % 5 === 0", "value": 1.3}, "value": 0.6}}},
           "y": {"field": "v", "type": "quantitative", "scale": {"domain": [19.04, 35.76], "nice": false, "zero": false},
                 "axis": {"title": "TL(mm)", "values": [20, 22.5, 25, 27.5, 30, 32.5, 35], "labelExpr": "datum.value % 5 === 0 ? format(datum.value, 'd') : ''",
                          "tickSize": {"condition": {"test": "datum.value % 5 === 0", "value": 5}, "value": 0},
                          "gridWidth": {"condition": {"test": "datum.value % 5 === 0", "value": 1.3}, "value": 0.6}}}
         }},
        {"data": {"name": "tl_fit"}, "mark": {"type": "area", "fill": "#999999", "opacity": 0.4},
         "encoding": {"x": {"field": "s", "type": "quantitative"}, "y": {"field": "lo", "type": "quantitative"}, "y2": {"field": "hi"}}},
        {"data": {"name": "tl_fit"}, "mark": {"type": "line", "color": "#3f62cc", "strokeWidth": 3.5},
         "encoding": {"x": {"field": "s", "type": "quantitative"}, "y": {"field": "v", "type": "quantitative"}}},
        {"data": {"name": "tl_fit"}, "transform": [{"filter": "datum.s === 40.7"}],
         "mark": {"type": "text", "align": "left", "baseline": "middle", "fontStyle": "italic", "fontSize": 16, "color": "#262626"},
         "encoding": {"x": {"datum": 40}, "y": {"datum": 34.01}, "text": {"value": "R²=0.602, F=210.3, df=1, P<0.000"}}}
      ]
    },
    {
      "width": 537, "height": 300,
      "title": "Correlation HW/SVL",
      "layer": [
        {"data": {"name": "hw"}, "mark": {"type": "point", "filled": false, "stroke": "#111111", "strokeWidth": 1.2, "size": 58, "opacity": 1},
         "encoding": {
           "x": {"field": "s", "type": "quantitative", "scale": {"domain": [39.8, 59.6], "nice": false, "zero": false},
                 "axis": {"title": null, "values": [40, 42.5, 45, 47.5, 50, 52.5, 55, 57.5], "labelExpr": "datum.value % 5 === 0 ? format(datum.value, 'd') : ''",
                          "tickSize": {"condition": {"test": "datum.value % 5 === 0", "value": 5}, "value": 0},
                          "gridWidth": {"condition": {"test": "datum.value % 5 === 0", "value": 1.3}, "value": 0.6}}},
           "y": {"field": "v", "type": "quantitative", "scale": {"domain": [11.9, 17.99], "nice": false, "zero": false},
                 "axis": {"title": "HW(mm)", "values": [12, 13, 14, 15, 16, 17], "labelExpr": "datum.value % 2 === 0 ? format(datum.value, 'd') : ''",
                          "tickSize": {"condition": {"test": "datum.value % 2 === 0", "value": 5}, "value": 0},
                          "gridWidth": {"condition": {"test": "datum.value % 2 === 0", "value": 1.3}, "value": 0.6}}}
         }},
        {"data": {"name": "hw_fit"}, "mark": {"type": "area", "fill": "#999999", "opacity": 0.4},
         "encoding": {"x": {"field": "s", "type": "quantitative"}, "y": {"field": "lo", "type": "quantitative"}, "y2": {"field": "hi"}}},
        {"data": {"name": "hw_fit"}, "mark": {"type": "line", "color": "#3f62cc", "strokeWidth": 3.5},
         "encoding": {"x": {"field": "s", "type": "quantitative"}, "y": {"field": "v", "type": "quantitative"}}},
        {"data": {"name": "hw_fit"}, "transform": [{"filter": "datum.s === 40.7"}],
         "mark": {"type": "text", "align": "left", "baseline": "middle", "fontStyle": "italic", "fontSize": 16, "color": "#262626"},
         "encoding": {"x": {"datum": 40}, "y": {"datum": 17.42}, "text": {"value": "R²=0.537, F=161.7, df=1, P<0.000"}}}
      ]
    },
    {
      "width": 537, "height": 297,
      "title": "Correlation IND/SVL",
      "layer": [
        {"data": {"name": "ind"}, "mark": {"type": "point", "filled": false, "stroke": "#111111", "strokeWidth": 1.2, "size": 58, "opacity": 1},
         "encoding": {
           "x": {"field": "s", "type": "quantitative", "scale": {"domain": [39.8, 59.6], "nice": false, "zero": false},
                 "axis": {"title": null, "values": [40, 42.5, 45, 47.5, 50, 52.5, 55, 57.5], "labelExpr": "datum.value % 5 === 0 ? format(datum.value, 'd') : ''",
                          "tickSize": {"condition": {"test": "datum.value % 5 === 0", "value": 5}, "value": 0},
                          "gridWidth": {"condition": {"test": "datum.value % 5 === 0", "value": 1.3}, "value": 0.6}}},
           "y": {"field": "v", "type": "quantitative", "scale": {"domain": [2.7, 5.26], "nice": false, "zero": false},
                 "axis": {"title": "IND(mm)", "values": [2.75, 3, 3.25, 3.5, 3.75, 4, 4.25, 4.5, 4.75, 5], "labelExpr": "(datum.value * 2) % 1 === 0 ? format(datum.value, '.1f') : ''",
                          "tickSize": {"condition": {"test": "(datum.value * 2) % 1 === 0", "value": 5}, "value": 0},
                          "gridWidth": {"condition": {"test": "(datum.value * 2) % 1 === 0", "value": 1.3}, "value": 0.6}}}
         }},
        {"data": {"name": "ind_fit"}, "mark": {"type": "area", "fill": "#999999", "opacity": 0.4},
         "encoding": {"x": {"field": "s", "type": "quantitative"}, "y": {"field": "lo", "type": "quantitative"}, "y2": {"field": "hi"}}},
        {"data": {"name": "ind_fit"}, "mark": {"type": "line", "color": "#3f62cc", "strokeWidth": 3.5},
         "encoding": {"x": {"field": "s", "type": "quantitative"}, "y": {"field": "v", "type": "quantitative"}}},
        {"data": {"name": "ind_fit"}, "transform": [{"filter": "datum.s === 40.7"}],
         "mark": {"type": "text", "align": "left", "baseline": "middle", "fontStyle": "italic", "fontSize": 16, "color": "#262626"},
         "encoding": {"x": {"datum": 40}, "y": {"datum": 4.86}, "text": {"value": "R²=0.233, F=42.25, df=1, P<0.000"}}}
      ]
    },
    {
      "width": 537, "height": 297,
      "title": {"text": "Correlation IEC/SVL", "dy": 1.6},
      "layer": [
        {"data": {"name": "iec"}, "mark": {"type": "point", "filled": false, "stroke": "#111111", "strokeWidth": 1.2, "size": 58, "opacity": 1},
         "encoding": {
           "x": {"field": "s", "type": "quantitative", "scale": {"domain": [39.8, 59.6], "nice": false, "zero": false},
                 "axis": {"title": null, "values": [40, 42.5, 45, 47.5, 50, 52.5, 55, 57.5], "labelExpr": "datum.value % 5 === 0 ? format(datum.value, 'd') : ''",
                          "tickSize": {"condition": {"test": "datum.value % 5 === 0", "value": 5}, "value": 0},
                          "gridWidth": {"condition": {"test": "datum.value % 5 === 0", "value": 1.3}, "value": 0.6}}},
           "y": {"field": "v", "type": "quantitative", "scale": {"domain": [9.05, 17.19], "nice": false, "zero": false},
                 "axis": {"title": "IEC(mm)", "values": [10, 11, 12, 13, 14, 15, 16, 17], "labelExpr": "datum.value % 2 === 1 ? format(datum.value, 'd') : ''",
                          "tickSize": {"condition": {"test": "datum.value % 2 === 1", "value": 5}, "value": 0},
                          "gridWidth": {"condition": {"test": "datum.value % 2 === 1", "value": 1.3}, "value": 0.6}}}
         }},
        {"data": {"name": "iec_fit"}, "mark": {"type": "area", "fill": "#999999", "opacity": 0.4},
         "encoding": {"x": {"field": "s", "type": "quantitative"}, "y": {"field": "lo", "type": "quantitative"}, "y2": {"field": "hi"}}},
        {"data": {"name": "iec_fit"}, "mark": {"type": "line", "color": "#3f62cc", "strokeWidth": 3.5},
         "encoding": {"x": {"field": "s", "type": "quantitative"}, "y": {"field": "v", "type": "quantitative"}}},
        {"data": {"name": "iec_fit"}, "transform": [{"filter": "datum.s === 40.7"}],
         "mark": {"type": "text", "align": "left", "baseline": "middle", "fontStyle": "italic", "fontSize": 16, "color": "#262626"},
         "encoding": {"x": {"datum": 40}, "y": {"datum": 16.07}, "text": {"value": "R²=0.254, F=47.44, df=1, P<0.000"}}}
      ]
    },
    {
      "width": 537, "height": 298,
      "title": {"text": "Correlation WTIM/SVL", "dy": 7.2},
      "layer": [
        {"data": {"name": "wtim"}, "mark": {"type": "point", "filled": false, "stroke": "#111111", "strokeWidth": 1.2, "size": 58, "opacity": 1},
         "encoding": {
           "x": {"field": "s", "type": "quantitative", "scale": {"domain": [39.8, 59.6], "nice": false, "zero": false},
                 "axis": {"title": null, "values": [40, 42.5, 45, 47.5, 50, 52.5, 55, 57.5], "labelExpr": "datum.value % 5 === 0 ? format(datum.value, 'd') : ''",
                          "tickSize": {"condition": {"test": "datum.value % 5 === 0", "value": 5}, "value": 0},
                          "gridWidth": {"condition": {"test": "datum.value % 5 === 0", "value": 1.3}, "value": 0.6}}},
           "y": {"field": "v", "type": "quantitative", "scale": {"domain": [2.29, 5.012], "nice": false, "zero": false},
                 "axis": {"title": "WTIM(mm)", "values": [2.5, 3, 3.5, 4, 4.5, 5], "labelExpr": "datum.value % 1 === 0 ? format(datum.value, 'd') : ''",
                          "tickSize": {"condition": {"test": "datum.value % 1 === 0", "value": 5}, "value": 0},
                          "gridWidth": {"condition": {"test": "datum.value % 1 === 0", "value": 1.3}, "value": 0.6}}}
         }},
        {"data": {"name": "wtim_fit"}, "mark": {"type": "area", "fill": "#999999", "opacity": 0.4},
         "encoding": {"x": {"field": "s", "type": "quantitative"}, "y": {"field": "lo", "type": "quantitative"}, "y2": {"field": "hi"}}},
        {"data": {"name": "wtim_fit"}, "mark": {"type": "line", "color": "#3f62cc", "strokeWidth": 3.5},
         "encoding": {"x": {"field": "s", "type": "quantitative"}, "y": {"field": "v", "type": "quantitative"}}},
        {"data": {"name": "wtim_fit"}, "transform": [{"filter": "datum.s === 40.7"}],
         "mark": {"type": "text", "align": "left", "baseline": "middle", "fontStyle": "italic", "fontSize": 16, "color": "#262626"},
         "encoding": {"x": {"datum": 40}, "y": {"datum": 4.68}, "text": {"value": "R²=0.407, F=95.64, df=1, P<0.000"}}}
      ]
    },
    {
      "width": 537, "height": 298,
      "title": "Correlation D3F/SVL",
      "layer": [
        {"data": {"name": "d3f"}, "mark": {"type": "point", "filled": false, "stroke": "#111111", "strokeWidth": 1.2, "size": 58, "opacity": 1},
         "encoding": {
           "x": {"field": "s", "type": "quantitative", "scale": {"domain": [39.8, 59.6], "nice": false, "zero": false},
                 "axis": {"title": null, "values": [40, 42.5, 45, 47.5, 50, 52.5, 55, 57.5], "labelExpr": "datum.value % 5 === 0 ? format(datum.value, 'd') : ''",
                          "tickSize": {"condition": {"test": "datum.value % 5 === 0", "value": 5}, "value": 0},
                          "gridWidth": {"condition": {"test": "datum.value % 5 === 0", "value": 1.3}, "value": 0.6}}},
           "y": {"field": "v", "type": "quantitative", "scale": {"domain": [1.5, 3.58], "nice": false, "zero": false},
                 "axis": {"title": "D3F(mm)", "values": [1.75, 2, 2.25, 2.5, 2.75, 3, 3.25, 3.5], "labelExpr": "(datum.value * 2) % 1 === 0 ? format(datum.value, '.1f') : ''",
                          "tickSize": {"condition": {"test": "(datum.value * 2) % 1 === 0", "value": 5}, "value": 0},
                          "gridWidth": {"condition": {"test": "(datum.value * 2) % 1 === 0", "value": 1.3}, "value": 0.6}}}
         }},
        {"data": {"name": "d3f_fit"}, "mark": {"type": "area", "fill": "#999999", "opacity": 0.4},
         "encoding": {"x": {"field": "s", "type": "quantitative"}, "y": {"field": "lo", "type": "quantitative"}, "y2": {"field": "hi"}}},
        {"data": {"name": "d3f_fit"}, "mark": {"type": "line", "color": "#3f62cc", "strokeWidth": 3.5},
         "encoding": {"x": {"field": "s", "type": "quantitative"}, "y": {"field": "v", "type": "quantitative"}}},
        {"data": {"name": "d3f_fit"}, "transform": [{"filter": "datum.s === 40.7"}],
         "mark": {"type": "text", "align": "left", "baseline": "middle", "fontStyle": "italic", "fontSize": 16, "color": "#262626"},
         "encoding": {"x": {"datum": 40}, "y": {"datum": 3.33}, "text": {"value": "R²=0.339, F=71.31, df=1, P<0.000"}}}
      ]
    },
    {
      "width": 537, "height": 293,
      "title": "Correlation D4T/SVL",
      "layer": [
        {"data": {"name": "d4t"}, "mark": {"type": "point", "filled": false, "stroke": "#111111", "strokeWidth": 1.2, "size": 58, "opacity": 1},
         "encoding": {
           "x": {"field": "s", "type": "quantitative", "scale": {"domain": [39.8, 59.6], "nice": false, "zero": false},
                 "axis": {"title": "SVL(mm)", "values": [40, 42.5, 45, 47.5, 50, 52.5, 55, 57.5], "labelExpr": "datum.value % 5 === 0 ? format(datum.value, 'd') : ''",
                          "tickSize": {"condition": {"test": "datum.value % 5 === 0", "value": 5}, "value": 0},
                          "gridWidth": {"condition": {"test": "datum.value % 5 === 0", "value": 1.3}, "value": 0.6}}},
           "y": {"field": "v", "type": "quantitative", "scale": {"domain": [0.96, 3.09], "nice": false, "zero": false},
                 "axis": {"title": "D4T(mm)", "values": [1, 1.25, 1.5, 1.75, 2, 2.25, 2.5, 2.75, 3], "labelExpr": "(datum.value * 2) % 1 === 0 ? format(datum.value, '.1f') : ''",
                          "tickSize": {"condition": {"test": "(datum.value * 2) % 1 === 0", "value": 5}, "value": 0},
                          "gridWidth": {"condition": {"test": "(datum.value * 2) % 1 === 0", "value": 1.3}, "value": 0.6}}}
         }},
        {"data": {"name": "d4t_fit"}, "mark": {"type": "area", "fill": "#999999", "opacity": 0.4},
         "encoding": {"x": {"field": "s", "type": "quantitative"}, "y": {"field": "lo", "type": "quantitative"}, "y2": {"field": "hi"}}},
        {"data": {"name": "d4t_fit"}, "mark": {"type": "line", "color": "#3f62cc", "strokeWidth": 3.5},
         "encoding": {"x": {"field": "s", "type": "quantitative"}, "y": {"field": "v", "type": "quantitative"}}},
        {"data": {"name": "d4t_fit"}, "transform": [{"filter": "datum.s === 40.7"}],
         "mark": {"type": "text", "align": "left", "baseline": "middle", "fontStyle": "italic", "fontSize": 16, "color": "#262626"},
         "encoding": {"x": {"datum": 40}, "y": {"datum": 2.83}, "text": {"value": "R²=0.317, F=64.64, df=1, P<0.000"}}}
      ]
    },
    {
      "width": 537, "height": 293,
      "title": {"text": "Correlation NE/SVL", "dy": 4.3},
      "layer": [
        {"data": {"name": "ne"}, "mark": {"type": "point", "filled": false, "stroke": "#111111", "strokeWidth": 1.2, "size": 58, "opacity": 1},
         "encoding": {
           "x": {"field": "s", "type": "quantitative", "scale": {"domain": [39.8, 59.6], "nice": false, "zero": false},
                 "axis": {"title": "SVL(mm)", "values": [40, 42.5, 45, 47.5, 50, 52.5, 55, 57.5], "labelExpr": "datum.value % 5 === 0 ? format(datum.value, 'd') : ''",
                          "tickSize": {"condition": {"test": "datum.value % 5 === 0", "value": 5}, "value": 0},
                          "gridWidth": {"condition": {"test": "datum.value % 5 === 0", "value": 1.3}, "value": 0.6}}},
           "y": {"field": "v", "type": "quantitative", "scale": {"domain": [3.75, 10.09], "nice": false, "zero": false},
                 "axis": {"title": "NE(mm)", "values": [4, 5, 6, 7, 8, 9, 10], "labelExpr": "datum.value % 2 === 0 ? format(datum.value, 'd') : ''",
                          "tickSize": {"condition": {"test": "datum.value % 2 === 0", "value": 5}, "value": 0},
                          "gridWidth": {"condition": {"test": "datum.value % 2 === 0", "value": 1.3}, "value": 0.6}}}
         }},
        {"data": {"name": "ne_fit"}, "mark": {"type": "area", "fill": "#999999", "opacity": 0.4},
         "encoding": {"x": {"field": "s", "type": "quantitative"}, "y": {"field": "lo", "type": "quantitative"}, "y2": {"field": "hi"}}},
        {"data": {"name": "ne_fit"}, "mark": {"type": "line", "color": "#3f62cc", "strokeWidth": 3.5},
         "encoding": {"x": {"field": "s", "type": "quantitative"}, "y": {"field": "v", "type": "quantitative"}}},
        {"data": {"name": "ne_fit"}, "transform": [{"filter": "datum.s === 40.7"}],
         "mark": {"type": "text", "align": "left", "baseline": "middle", "fontStyle": "italic", "fontSize": 16, "color": "#262626"},
         "encoding": {"x": {"datum": 40}, "y": {"datum": 9.09}, "text": {"value": "R²=0.029, F=4.264, df=1, P<0.040"}}}
      ]
    }
  ],
  "config": {
    "background": "white",
    "font": "Liberation Sans",
    "view": {"fill": "#ebebeb", "stroke": null},
    "title": {"fontSize": 28, "fontWeight": "bold", "color": "#111111", "anchor": "middle", "frame": "group", "offset": 9},
    "axis": {"domain": false, "grid": true, "gridColor": "#ffffff", "tickColor": "#333333", "tickWidth": 1.1, "tickCount": 50,
             "labelColor": "#4d4d4d", "labelFontSize": 17, "titleFontSize": 23, "titleFontWeight": "normal", "titleColor": "#000000"},
    "axisX": {"labelPadding": 5, "titlePadding": 6},
    "axisY": {"labelPadding": 5, "titlePadding": 13}
  }
}
